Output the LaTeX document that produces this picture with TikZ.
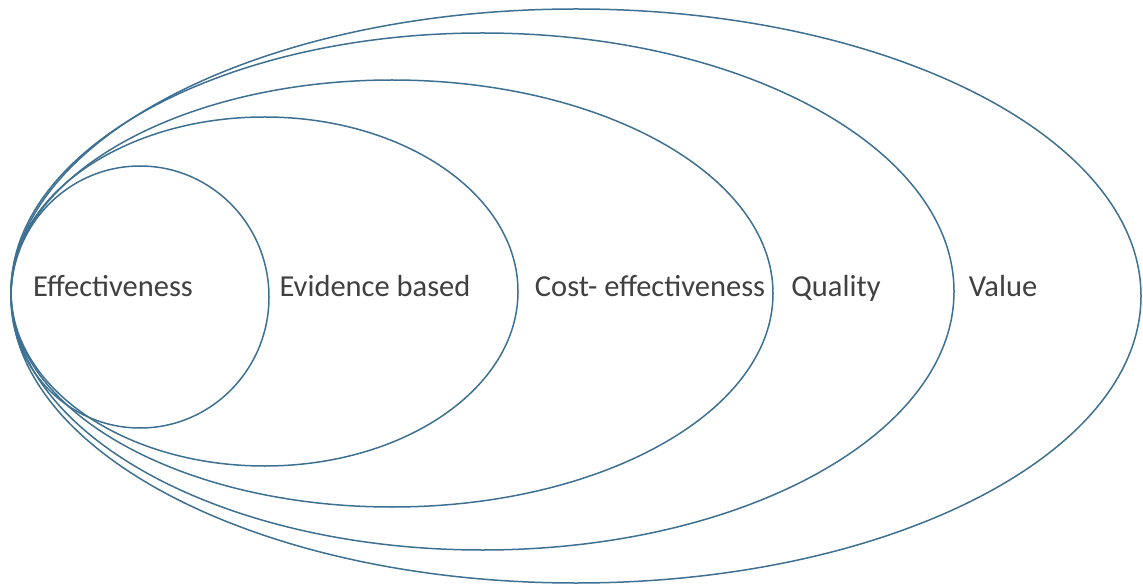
\documentclass[tikz,border=0pt]{standalone}
\usepackage{fontspec}
\setmainfont{Carlito}
\definecolor{ringblue}{RGB}{62,112,146}
\definecolor{labelgray}{RGB}{64,64,64}

\begin{document}
\begin{tikzpicture}[%
  x=1pt, y=-1pt,
  ring/.style = {draw=ringblue, line width=1.5pt},
  label/.style = {text=labelgray, inner sep=0pt, anchor=base,
    font=\fontsize{30.5}{36}\selectfont},
]

  \useasboundingbox (0,0) rectangle (1143,585);

  % rings, all touching on the left
  \draw[ring] (576.0,296.0) ellipse [x radius=565.0, y radius=287.0];
  \draw[ring] (482.5,291.5) ellipse [x radius=471.5, y radius=258.5];
  \draw[ring] (392.0,293.5) ellipse [x radius=381.0, y radius=213.5];
  \draw[ring] (264.5,291.5) ellipse [x radius=253.5, y radius=174.5];
  \draw[ring] (140.0,297.0) ellipse [x radius=129.0, y radius=131.0];

  \node[label] (effect)  at (113,297)  {Effectiveness};
  \node[label] (evid)    at (375,297)  {Evidence based};
  \node[label] (cost)    at (650,297)  {Cost- effectiveness};
  \node[label] (quality) at (836,297)  {Quality};
  \node[label] (value)   at (1003,297) {Value};

\end{tikzpicture}
\end{document}
